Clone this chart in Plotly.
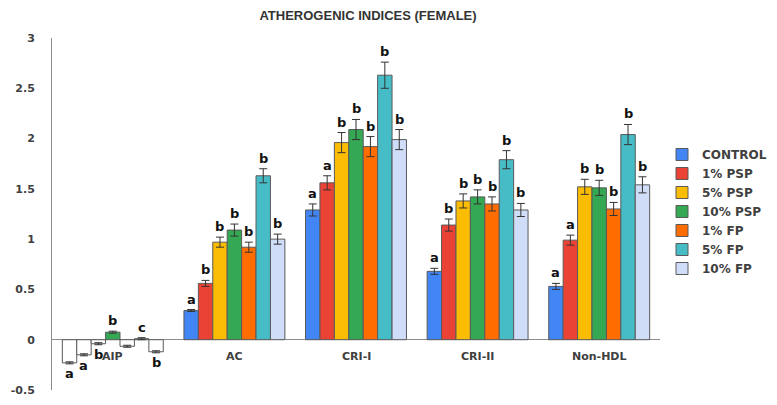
import plotly.graph_objects as go

categories = ["AIP", "AC", "CRI-I", "CRI-II", "Non-HDL"]
series_names = ["CONTROL", "1% PSP", "5% PSP", "10% PSP", "1% FP", "5% FP", "10% FP"]

control = [-0.23, 0.29, 1.29, 0.68, 0.53]
psp1 = [-0.15, 0.56, 1.56, 1.14, 0.99]
psp5 = [-0.04, 0.97, 1.96, 1.38, 1.52]
psp10 = [0.075, 1.09, 2.09, 1.42, 1.51]
fp1 = [-0.065, 0.92, 1.92, 1.35, 1.30]
fp5 = [0.01, 1.63, 2.63, 1.79, 2.04]
fp10 = [-0.12, 1.00, 1.99, 1.29, 1.54]

control_err = [0.01, 0.01, 0.06, 0.03, 0.03]
psp1_err = [0.01, 0.03, 0.07, 0.06, 0.05]
psp5_err = [0.01, 0.05, 0.10, 0.07, 0.075]
psp10_err = [0.01, 0.06, 0.10, 0.07, 0.075]
fp1_err = [0.01, 0.05, 0.10, 0.07, 0.065]
fp5_err = [0.01, 0.07, 0.13, 0.09, 0.10]
fp10_err = [0.01, 0.05, 0.10, 0.065, 0.08]

control_sig = ["a", "a", "a", "a", "a"]
psp1_sig = ["a", "b", "a", "b", "a"]
psp5_sig = ["b", "b", "b", "b", "b"]
psp10_sig = ["b", "b", "b", "b", "b"]
fp1_sig = ["", "b", "b", "b", "b"]
fp5_sig = ["c", "b", "b", "b", "b"]
fp10_sig = ["b", "b", "b", "b", "b"]

y_ticks = [-0.5, 0, 0.5, 1, 1.5, 2, 2.5, 3]
y_tick_labels = ["-0.5", "0", "0.5", "1", "1.5", "2", "2.5", "3"]

colors = ["#4285F4", "#EA4335", "#FBBC04", "#34A853", "#FF6D01", "#46BDC6", "#D0DDF9"]

values = [control, psp1, psp5, psp10, fp1, fp5, fp10]
errors = [control_err, psp1_err, psp5_err, psp10_err, fp1_err, fp5_err, fp10_err]
sigs = [control_sig, psp1_sig, psp5_sig, psp10_sig, fp1_sig, fp5_sig, fp10_sig]

FONT = "DejaVu Sans"
TXT = "#404040"
bargap = 0.17
nser = len(series_names)
bw = (1 - bargap) / nser

# the page body keeps its default 8px margin, so the figure is drawn 8px in
OFF = 8
W, H = 777 - OFF, 405 - OFF

fig = go.Figure()
annotations = []
# put a positive (coloured) point first so the legend swatch takes the series colour
order = [1, 2, 3, 4, 0]
for k, (name, vals, errs, sg, col) in enumerate(zip(series_names, values, errors, sigs, colors)):
    xs = list(order)
    ys = [vals[i] for i in order]
    es = [errs[i] for i in order]
    cs = [col if vals[i] >= 0 else "#FFFFFF" for i in order]
    fig.add_trace(go.Bar(
        x=xs, y=ys, name=name,
        marker=dict(color=cs, line=dict(color="#5a5a5a", width=1)),
        error_y=dict(type="data", array=es, visible=True, color="#333333", thickness=1, width=4),
    ))
    for i in range(len(categories)):
        if not sg[i]:
            continue
        xpos = i + (k - (nser - 1) / 2) * bw
        if vals[i] >= 0:
            annotations.append(dict(x=xpos, y=vals[i] + errs[i], xref="x", yref="y",
                                    text=sg[i], showarrow=False, yanchor="bottom", yshift=1,
                                    font=dict(family=FONT, size=13, color="#111111", weight="bold")))
        else:
            annotations.append(dict(x=xpos, y=vals[i] - errs[i], xref="x", yref="y",
                                    text=sg[i], showarrow=False, yanchor="top", yshift=0,
                                    font=dict(family=FONT, size=13, color="#111111", weight="bold")))

for i, c in enumerate(categories):
    annotations.append(dict(x=i, y=0, xref="x", yref="y", text=c, showarrow=False,
                            yanchor="top", yshift=-8,
                            font=dict(family=FONT, size=11, color=TXT, weight="bold")))

fig.update_layout(
    width=W, height=H,
    margin=dict(l=52 - OFF, r=117, t=38 - OFF, b=15, autoexpand=False),
    paper_bgcolor="white", plot_bgcolor="white",
    barmode="group", bargap=bargap, bargroupgap=0,
    title=dict(text="ATHEROGENIC INDICES (FEMALE)", x=(368 - OFF) / W, xanchor="center",
               y=1 - (15 - OFF) / H, yanchor="middle",
               font=dict(family="Liberation Sans", size=13, color="#333333", weight="bold")),
    xaxis=dict(range=[-0.5, 4.5], showticklabels=False, showgrid=False, showline=False,
               zeroline=False, ticks="", automargin=False),
    yaxis=dict(range=[-0.5, 3], tickvals=y_ticks, ticktext=y_tick_labels, showgrid=False,
               showline=True, linecolor="#8c8c8c", linewidth=1, zeroline=True,
               zerolinecolor="#8c8c8c", zerolinewidth=1, ticks="", ticklabelstandoff=14,
               automargin=False,
               tickfont=dict(family=FONT, size=11, color=TXT, weight="bold")),
    legend=dict(xref="container", yref="container", x=(662 - OFF) / W, y=1 - (140 - OFF) / H,
                xanchor="left", yanchor="top", itemwidth=30, tracegroupgap=0,
                font=dict(family=FONT, size=12, color=TXT, weight="bold"),
                bgcolor="rgba(0,0,0,0)"),
    annotations=annotations,
    showlegend=True,
)

fig.write_html("out.html")
